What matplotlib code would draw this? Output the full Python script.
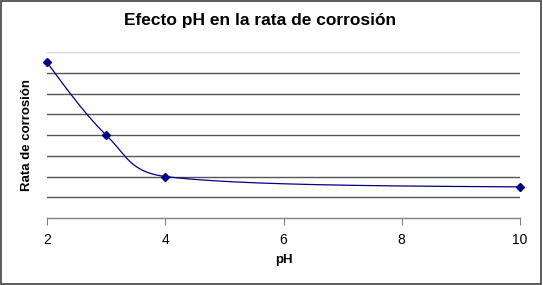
import numpy as np
import matplotlib.pyplot as plt

plt.rcParams['font.family'] = ['Liberation Sans', 'DejaVu Sans']

# data
ph = [2, 3, 4, 10]
rate = [7.5, 4.0, 2.0, 1.5]

title = "Efecto pH en la rata de corrosión"
xlabel = "pH"
ylabel = "Rata de corrosión"
xticks = [2, 4, 6, 8, 10]

# approx. pixel size of one data unit, so the smoothing works in screen space
XPX, YPX = 59.1, 20.75


def smooth_line(x, y, n=80):
    # Excel-like smoothed line in screen space: Catmull-Rom handles (1/6 of
    # neighbour difference) clamped to half the segment; end handles point
    # half-way to the neighbouring control point
    p = np.column_stack([np.asarray(x, float) * XPX, np.asarray(y, float) * YPX])
    m = len(p)
    t = np.linspace(0, 1, n)[:, None]
    ctrl = []
    for i in range(m - 1):
        L = np.hypot(*(p[i + 1] - p[i]))
        h1 = (p[i + 1] - p[i - 1]) / 6 if i > 0 else None
        h2 = (p[i + 2] - p[i]) / 6 if i + 2 < m else None
        if h1 is not None:
            h1 = h1 * min(1, 0.5 * L / np.hypot(*h1))
        if h2 is not None:
            h2 = h2 * min(1, 0.5 * L / np.hypot(*h2))
        c1 = p[i] + h1 if h1 is not None else None
        c2 = p[i + 1] - h2 if h2 is not None else None
        if c1 is None:
            c1 = p[i] + ((c2 if c2 is not None else p[i + 1]) - p[i]) * 0.5
        if c2 is None:
            c2 = p[i + 1] + (c1 - p[i + 1]) * 0.5
        ctrl.append((p[i], c1, c2, p[i + 1]))
    out = []
    for a, c1, c2, b in ctrl:
        out.append((1 - t) ** 3 * a + 3 * (1 - t) ** 2 * t * c1
                   + 3 * (1 - t) * t ** 2 * c2 + t ** 3 * b)
    out = np.vstack(out)
    return out[:, 0] / XPX, out[:, 1] / YPX


fig = plt.figure(figsize=(5.43, 2.85), dpi=100)
ax = fig.add_axes([47 / 543, 1 - 218 / 285, 473 / 543, 166 / 285])

ax.set_xlim(2, 10)
ax.set_ylim(0, 8)

# horizontal gridlines
for g in range(1, 8):
    ax.axhline(g, color='#555555', lw=1.0, zorder=1)
ax.axhline(8, color='#d0d0d0', lw=1.0, zorder=1)

sx, sy = smooth_line(ph, rate)
ax.plot(sx, sy, color='#000080', lw=0.9, zorder=3, clip_on=False)
ax.plot(ph, rate, linestyle='none', marker='D', markersize=4.5,
        color='#000080', zorder=4, clip_on=False)

for s in ['top', 'right', 'left']:
    ax.spines[s].set_visible(False)
ax.spines['bottom'].set_color('#808080')
ax.spines['bottom'].set_linewidth(1.0)

ax.set_yticks([])
ax.set_xticks(xticks)
ax.tick_params(axis='x', direction='out', length=5, color='#808080',
               labelsize=10, pad=6)

ax.set_xlabel(xlabel, fontsize=9.5, fontweight='bold', labelpad=5)
ax.set_ylabel(ylabel, fontsize=9.5, fontweight='bold', labelpad=10)
fig.suptitle(title, x=260 / 543, fontsize=12.5, fontweight='bold', y=0.955)

# chart border
fig.patches.append(plt.Rectangle((0.002, 0.004), 0.995, 0.992, transform=fig.transFigure,
                                 fill=False, edgecolor='#404040', lw=1.2))

fig.savefig('out.png', dpi=100)
